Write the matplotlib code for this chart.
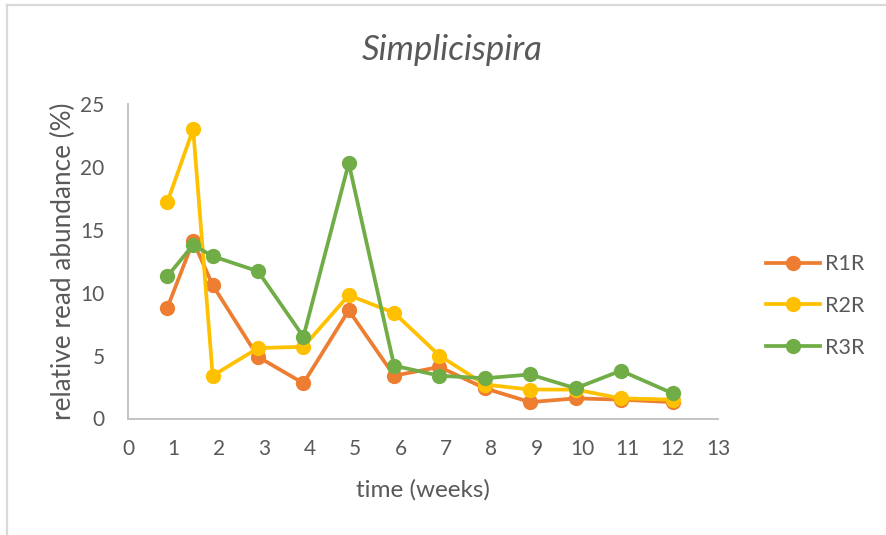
import matplotlib
matplotlib.use("Agg")
import matplotlib.pyplot as plt
from matplotlib.lines import Line2D

# sampling times (weeks)
weeks = [0.86, 1.43, 1.86, 2.86, 3.86, 4.86, 5.86, 6.86, 7.86, 8.86, 9.86, 10.86, 12.0]

# relative read abundance (%) per reactor
r1r = [8.8, 14.1, 10.6, 4.9, 2.8, 8.6, 3.4, 4.1, 2.4, 1.3, 1.6, 1.5, 1.3]
r2r = [17.2, 23.0, 3.4, 5.6, 5.7, 9.8, 8.4, 5.0, 2.7, 2.3, 2.3, 1.6, 1.5]
r3r = [11.3, 13.8, 12.9, 11.7, 6.5, 20.3, 4.2, 3.4, 3.2, 3.5, 2.4, 3.8, 2.0]

labels = ["R1R", "R2R", "R3R"]
colors = ["#ED7D31", "#FFC000", "#70AD47"]

xticks = list(range(0, 14))
yticks = [0, 5, 10, 15, 20, 25]

plt.rcParams["font.family"] = ["Lato", "DejaVu Sans"]
text_color = "#595959"

fig = plt.figure(figsize=(8.86, 5.35), dpi=100)
ax = fig.add_axes([128.3 / 886, 1 - 418.5 / 535, (718 - 128.3) / 886, (418.5 - 104) / 535])

for ys, lab, col in zip([r1r, r2r, r3r], labels, colors):
    ax.plot(weeks, ys, color=col, lw=2.7, marker="o", markersize=11,
            markeredgewidth=0, label=lab, solid_joinstyle="round")

ax.set_xlim(0, 13)
ax.set_ylim(0, 25)
ax.set_xticks(xticks)
ax.set_yticks(yticks)
ax.tick_params(axis="both", length=0, labelsize=15, colors=text_color)
ax.tick_params(axis="x", pad=15)
ax.tick_params(axis="y", pad=17)

for side in ("top", "right"):
    ax.spines[side].set_visible(False)
for side in ("left", "bottom"):
    ax.spines[side].set_color("#BFBFBF")
    ax.spines[side].set_linewidth(1.3)

ax.set_xlabel("time (weeks)", fontsize=17.5, color=text_color, labelpad=14)
ax.set_ylabel("relative read abundance (%)", fontsize=18.8, color=text_color, labelpad=3)
fig.text(452 / 886, 1 - 50 / 535, "Simplicispira", fontsize=25, style="italic",
         color=text_color, ha="center", va="center")

leg = ax.legend(loc="center left", bbox_to_anchor=(766 / 886, 1 - 306 / 535),
                bbox_transform=fig.transFigure, frameon=False, fontsize=15.5,
                handlelength=2.5, handletextpad=0.25, labelspacing=1.0,
                borderpad=0, borderaxespad=0)
for t in leg.get_texts():
    t.set_color(text_color)

# chart area frame (top and left edges)
fig.add_artist(Line2D([7 / 886, 1.0], [1 - 5 / 535, 1 - 5 / 535],
                      transform=fig.transFigure, color="#D9D9D9", lw=1.6))
fig.add_artist(Line2D([7 / 886, 7 / 886], [1 - 5 / 535, 0.0],
                      transform=fig.transFigure, color="#D9D9D9", lw=1.6))

fig.savefig("out.png", dpi=100)
